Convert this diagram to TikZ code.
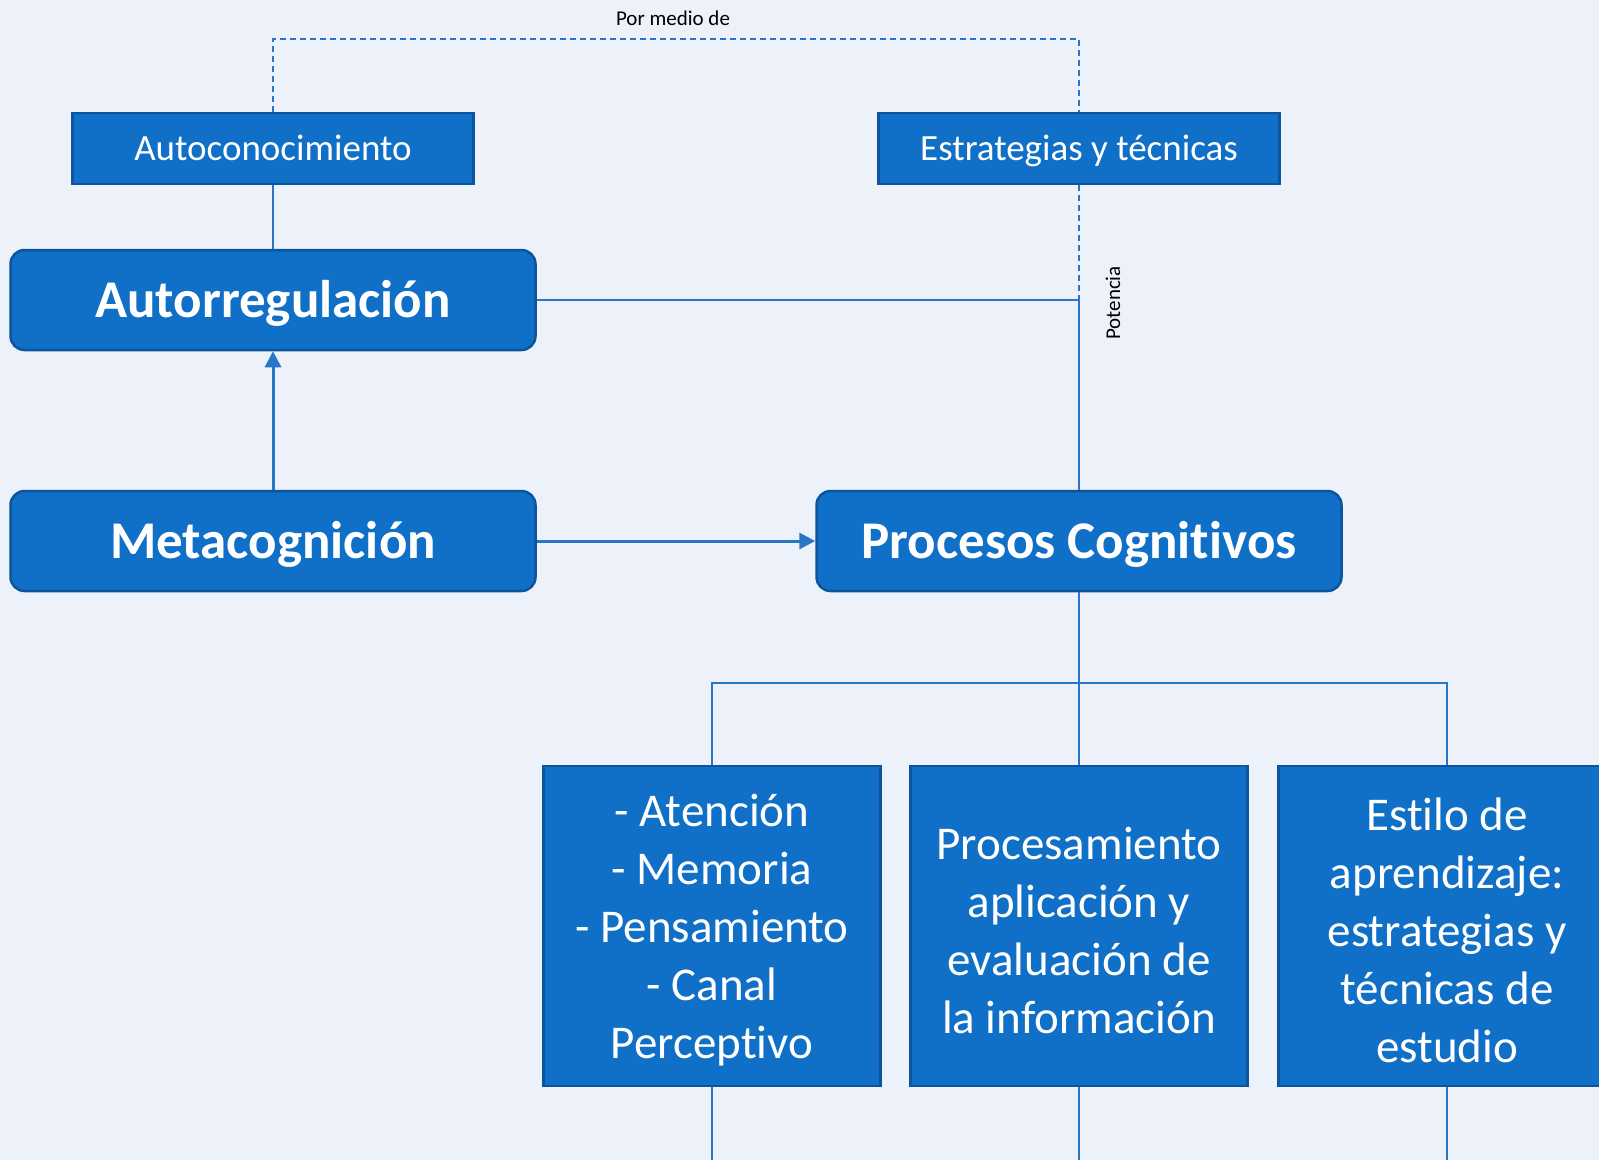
\documentclass[tikz,border=0pt]{standalone}
\usepackage{fontspec}
\setmainfont{Carlito}[Ligatures=NoCommon, RawFeature=-liga]
\usepackage{xcolor}
\definecolor{fondo}{RGB}{237,242,250}
\definecolor{azul}{RGB}{16,111,198}
\definecolor{azulosc}{RGB}{12,84,156}
\definecolor{linea}{RGB}{40,118,200}
\usepackage{tikz}
\usetikzlibrary{calc,positioning,arrows.meta}
\tikzset{
  concepto/.style={rectangle, draw=azulosc, fill=azul, line width=2.5pt, text=white,
    text height=30pt, text depth=6pt,
    minimum width=401pt, minimum height=71pt, inner sep=0pt, font=\fontsize{37}{44}\selectfont},
  principal/.style={rectangle, draw=azulosc, fill=azul, line width=2.5pt, text=white, rounded corners=14pt,
    text height=44pt, text depth=10pt,
    minimum width=525pt, minimum height=100pt, inner sep=0pt, font=\fontsize{53}{62}\selectfont\bfseries},
  detalle/.style={rectangle, draw=azulosc, fill=azul, line width=2.5pt, text=white, align=center,
    minimum width=337pt, minimum height=320pt, inner sep=0pt, font=\fontsize{47}{58}\selectfont},
  etiqueta/.style={text=black, inner sep=0pt, font=\fontsize{21}{25}\selectfont},
  line/.style={draw=linea, line width=1.5pt},
  dline/.style={draw=linea, line width=1.5pt, dash pattern=on 6pt off 4pt},
  flecha/.style={draw=linea, line width=3pt, -{Triangle[length=16pt,width=16pt]}},
}
\begin{document}
\begin{tikzpicture}[x=1pt, y=1pt]
  \useasboundingbox (0,0) rectangle (1599,-1160);
  \clip (0,0) rectangle (1599,-1160);
  \fill[fondo] (0,0) rectangle (1599,-1160);

  % conceptos de arriba
  \node[concepto] (autoc) at (273,-148.5) {Autoconocimiento};
  \node[concepto] (estr) at (1079,-148.5) {Estrategias y técnicas};
  \node[etiqueta] (pm) at (673,-18) {Por medio de};

  % nodos principales
  \node[principal] (autor) at (273,-300) {Autorregulación};
  \node[principal] (meta) at (273,-541) {Metacognición};
  \node[principal] (proc) at (1079,-541) {Procesos Cognitivos};
  \node[etiqueta, rotate=90] (pot) at (1113,-303) {Potencia};

  % procesos
  \node[detalle] (b1) at (712,-926) {\strut- Atención\\- Memoria\\- Pensamiento\\- Canal\\Perceptivo};
  \node[detalle] (b2) at (1079,-926) {\strut Procesamiento\\aplicación y\\evaluación de\\la información};
  \node[detalle] (b3) at (1447,-926) {\strut Estilo de\\aprendizaje:\\estrategias y\\técnicas de\\estudio};

  \coordinate (top) at (673,-39);
  \coordinate (j1) at (1079,-300);
  \coordinate (j2) at (1079,-683);
  \coordinate (e1) at (712,-1160);
  \coordinate (e2) at (1079,-1160);
  \coordinate (e3) at (1447,-1160);

  % por medio de
  \path[dline] (autoc.north) |- (top) -| (estr.north);
  % potencia
  \path[dline] (estr.south) -- (j1);
  \path[line] (autor.east) -- (j1) -- (proc.north);
  \path[line] (autoc.south) -- (autor.north);

  \path[flecha] (meta.north) -- (autor.south);
  \path[flecha] (meta.east) -- (proc.west);

  % ramas
  \path[line] (proc.south) -- (j2)
    (j2) -| (b1.north)
    (j2) -| (b3.north)
    (j2) -- (b2.north);
  \path[line] (b1.south) -- (e1)
    (b2.south) -- (e2)
    (b3.south) -- (e3);
\end{tikzpicture}
\end{document}
